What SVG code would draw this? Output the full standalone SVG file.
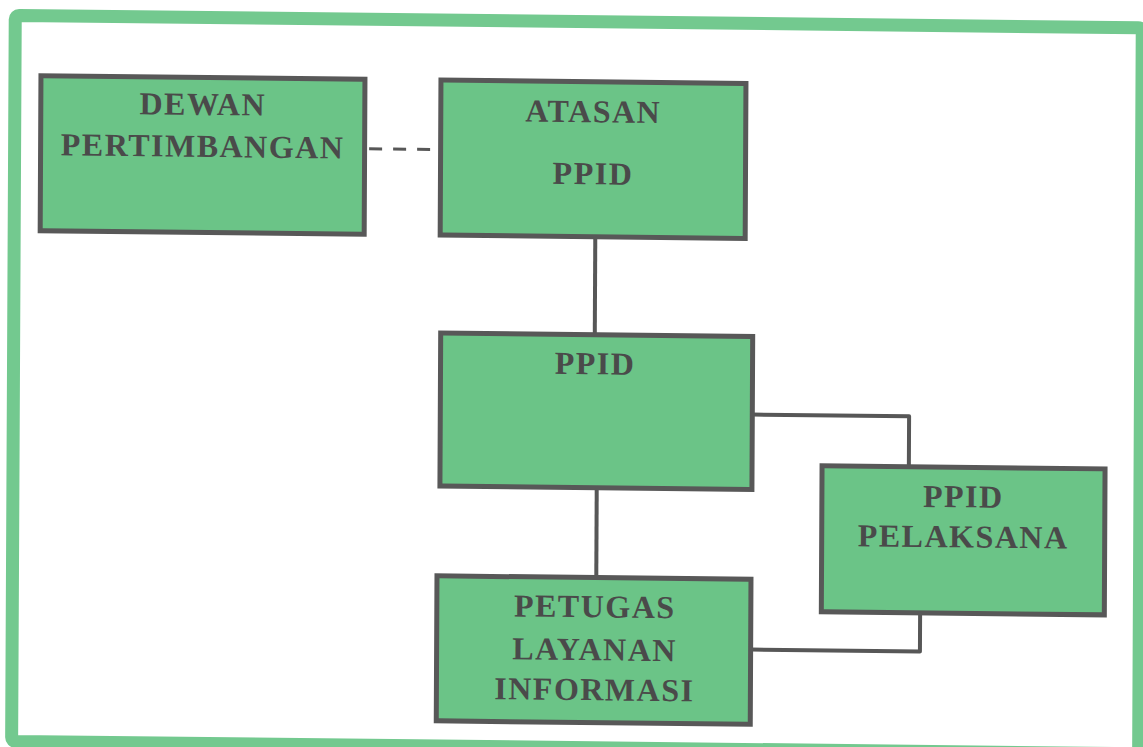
<svg xmlns="http://www.w3.org/2000/svg" width="1143" height="747" viewBox="0 0 1143 747">
  <style>
    .box { fill: #6bc487; stroke: #585858; stroke-width: 5; }
    .lbl { font-family: "Liberation Serif", "Times New Roman", serif; font-weight: bold; font-size: 32px; letter-spacing: 1.5px; fill: #4a4a4a; text-anchor: middle; }
    .conn { fill: none; stroke: #575757; stroke-width: 4; stroke-linejoin: round; }
    .dash { fill: none; stroke: #575757; stroke-width: 3; stroke-dasharray: 13 11; }
  </style>
  <rect x="0" y="0" width="1143" height="747" fill="#ffffff"/>
  <g transform="matrix(1 0.011 -0.005 1 1.865 -6.281)">
    <g id="frame">
      <rect x="13.5" y="21.5" width="1127" height="726" rx="4" fill="#ffffff" stroke="#73c98f" stroke-width="13"/>
    </g>
    <g id="connectors">
      <line class="dash" x1="368" y1="151" x2="432" y2="151"/>
      <line class="conn" x1="594.6" y1="237" x2="594.6" y2="333"/>
      <line class="conn" x1="597.3" y1="489" x2="597.3" y2="576"/>
      <path class="conn" d="M753 412.6 H909.3 V462"/>
      <path class="conn" d="M753 647.6 H921.3 V610"/>
    </g>
    <g id="dewan">
      <rect class="box" x="39.5" y="81.5" width="324" height="155"/>
      <text class="lbl" x="201.5" y="119">DEWAN</text>
      <text class="lbl" x="201.5" y="161">PERTIMBANGAN</text>
    </g>
    <g id="atasan">
      <rect class="box" x="439.5" y="81.5" width="305" height="155"/>
      <text class="lbl" x="592" y="122">ATASAN</text>
      <text class="lbl" x="592" y="184">PPID</text>
    </g>
    <g id="ppid">
      <rect class="box" x="440.5" y="334.5" width="312" height="153"/>
      <text class="lbl" x="595" y="374">PPID</text>
    </g>
    <g id="pelaksana">
      <rect class="box" x="822.5" y="463" width="283" height="146"/>
      <text class="lbl" x="964" y="503">PPID</text>
      <text class="lbl" x="964" y="543">PELAKSANA</text>
    </g>
    <g id="petugas">
      <rect class="box" x="438" y="577.3" width="314" height="145"/>
      <text class="lbl" x="596" y="617">PETUGAS</text>
      <text class="lbl" x="596" y="660">LAYANAN</text>
      <text class="lbl" x="596" y="700">INFORMASI</text>
    </g>
  </g>
</svg>
